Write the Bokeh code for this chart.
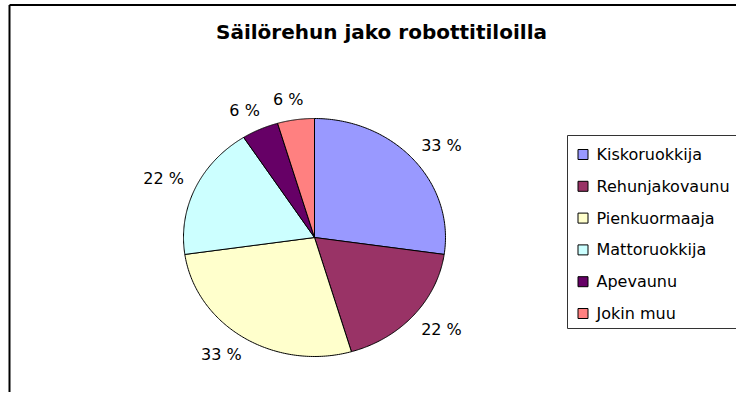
import numpy as np
from bokeh.plotting import figure
from bokeh.models import Range1d
from bokeh.core.properties import value
from bokeh.embed import file_html
from bokeh.resources import INLINE

# ---- data ----
title_text = "Säilörehun jako robottitiloilla"
categories = ["Kiskoruokkija", "Rehunjakovaunu", "Pienkuormaaja",
              "Mattoruokkija", "Apevaunu", "Jokin muu"]
counts = [6, 4, 6, 4, 1, 1]
pct_labels = ["33 %", "22 %", "33 %", "22 %", "6 %", "6 %"]
colors = ["#9999FF", "#993366", "#FFFFCC", "#CCFFFF", "#660066", "#FF8080"]

# ---- layout constants (picture pixels) ----
W, H = 736, 392
CX, CY, RX, RY = 314, 237, 131, 119
FONT = "DejaVu Sans"

p = figure(width=W, height=H, x_range=Range1d(0, W), y_range=Range1d(H, 0),
           output_backend="svg", toolbar_location=None, min_border=0,
           x_axis_location=None, y_axis_location=None)
p.grid.visible = False
p.outline_line_color = None
p.background_fill_color = "white"
p.border_fill_color = "white"

# outer chart border (left and top visible)
p.segment(x0=[9, 9], y0=[4.5, 4.5], x1=[9, 800], y1=[450, 4.5], line_color="black", line_width=2)

# title
p.text(x=[381], y=[31], text=[title_text], text_font=value(FONT), text_font_style="bold",
       text_font_size=value("20px"), text_align="center", text_baseline="middle",
       text_color="black")

# pie slices (clockwise from 12 o'clock), elliptical
fr = np.array(counts, dtype=float) / sum(counts)
cum = np.concatenate([[0.0], np.cumsum(fr)])
xs, ys, lx, ly = [], [], [], []
for i in range(len(counts)):
    a0 = np.pi / 2 - 2 * np.pi * cum[i]
    a1 = np.pi / 2 - 2 * np.pi * cum[i + 1]
    t = np.linspace(a0, a1, 120)
    xs.append(np.concatenate([[CX], CX + RX * np.cos(t)]).tolist())
    ys.append(np.concatenate([[CY], CY - RY * np.sin(t)]).tolist())
    m = (a0 + a1) / 2
    c, s = np.cos(m), np.sin(m)
    px, py = CX + RX * c, CY - RY * s
    hw = 5 * len(pct_labels[i])
    hh = 6
    g = 14
    lx.append(px + g * c + hw * np.sign(c) * np.sqrt(abs(c)))
    ly.append(py - (g * s + hh * np.sign(s) * np.sqrt(abs(s))))

p.patches(xs=xs, ys=ys, fill_color=colors, line_color="black", line_width=1)

p.text(x=lx, y=ly, text=pct_labels, text_font=value(FONT), text_font_size=value("16px"),
       text_align="center", text_baseline="middle", text_color="black")

# legend (drawn in picture pixel coordinates; right edge runs off the chart)
LX0, LY0, LY1 = 567, 135, 328
p.quad(left=[LX0], right=[800], top=[LY0], bottom=[LY1], fill_color="white",
       line_color="#333333", line_width=1)
centers = [LY0 + 19 + 31.8 * i for i in range(len(categories))]
p.rect(x=[582.5] * len(categories), y=centers, width=10, height=10,
       fill_color=colors, line_color="black", line_width=1)
p.text(x=[596] * len(categories), y=centers, text=categories, text_font=value(FONT),
       text_font_size=value("16px"), text_align="left", text_baseline="middle",
       text_color="black")

open("out.html", "w").write(file_html(p, INLINE))
